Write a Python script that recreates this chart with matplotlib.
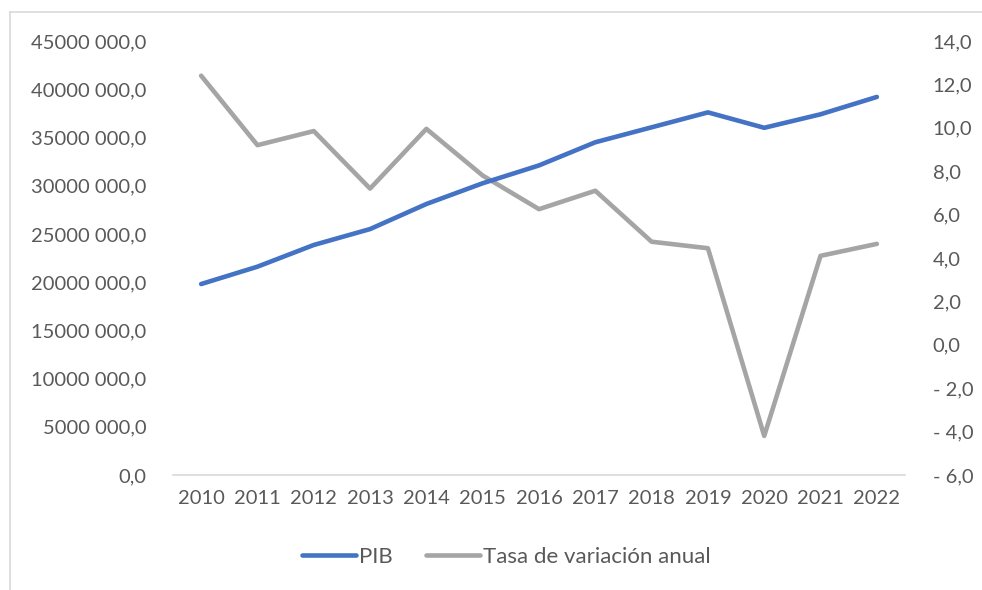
import matplotlib
matplotlib.use("Agg")
import matplotlib.pyplot as plt
from matplotlib.lines import Line2D
from matplotlib.ticker import FuncFormatter

years = [2010, 2011, 2012, 2013, 2014, 2015, 2016, 2017, 2018, 2019, 2020, 2021, 2022]
pib = [19.8e6, 21.6e6, 23.85e6, 25.5e6, 28.1e6, 30.25e6, 32.1e6, 34.5e6, 36.05e6, 37.6e6, 36.0e6, 37.4e6, 39.2e6]
tasa = [12.4, 9.2, 9.85, 7.2, 9.95, 7.8, 6.25, 7.1, 4.75, 4.45, -4.2, 4.1, 4.65]

plt.rcParams['font.family'] = ['Lato', 'DejaVu Sans']
txt = '#595959'
fs = 14.5

fig = plt.figure(figsize=(9.82, 5.90), dpi=100)
ax = fig.add_axes([173/982, 1-475/590, (905-173)/982, (475-41)/590])
ax2 = ax.twinx()

x = list(range(len(years)))
ax.plot(x, pib, color='#4472C4', lw=3.3, solid_capstyle='round', solid_joinstyle='round', zorder=3)
ax2.plot(x, tasa, color='#A5A5A5', lw=3.3, solid_capstyle='round', solid_joinstyle='round')
ax.set_zorder(ax2.get_zorder() + 1)
ax.patch.set_visible(False)

ax.set_xlim(-0.5, len(years) - 0.5)
ax.set_ylim(0, 45e6)
ax2.set_ylim(-6, 14)
ax.set_yticks([i * 5e6 for i in range(10)])
ax2.set_yticks(list(range(-6, 15, 2)))

def fmt_left(v, p):
    n = int(round(v))
    if n == 0:
        return '0,0'
    th = n // 1000
    rest = n % 1000
    return f"{th} {rest:03d},0"

def fmt_right(v, p):
    s = f"{abs(v):.1f}".replace('.', ',')
    return f"- {s}" if v < -1e-9 else s

ax.yaxis.set_major_formatter(FuncFormatter(fmt_left))
ax2.yaxis.set_major_formatter(FuncFormatter(fmt_right))
ax.set_xticks(x)
ax.set_xticklabels([str(y) for y in years])

for a in (ax, ax2):
    for s in a.spines.values():
        s.set_visible(False)
    a.tick_params(length=0, labelsize=fs, colors=txt)
ax.spines['bottom'].set_visible(True)
ax.spines['bottom'].set_color('#D9D9D9')
ax.spines['bottom'].set_linewidth(1.2)
ax.tick_params(axis='y', pad=19)
ax2.tick_params(axis='y', pad=20)
ax.tick_params(axis='x', pad=11)

handles = [Line2D([], [], color='#4472C4', lw=3.3, solid_capstyle='round'),
           Line2D([], [], color='#A5A5A5', lw=3.3, solid_capstyle='round')]
leg = fig.legend(handles, ['PIB', 'Tasa de variación anual'], loc='center',
                 bbox_to_anchor=(506/982, 1-557/590), ncol=2, frameon=False,
                 fontsize=16, handlelength=2.45, handletextpad=0.12, columnspacing=1.5)
for t in leg.get_texts():
    t.set_color(txt)

# chart border (partially visible)
fig.add_artist(Line2D([10/982, 10/982], [0, 1-12/590], transform=fig.transFigure, color='#D9D9D9', lw=1.2))
fig.add_artist(Line2D([10/982, 1], [1-12/590, 1-12/590], transform=fig.transFigure, color='#D9D9D9', lw=1.2))

fig.savefig('out.png', dpi=100)
